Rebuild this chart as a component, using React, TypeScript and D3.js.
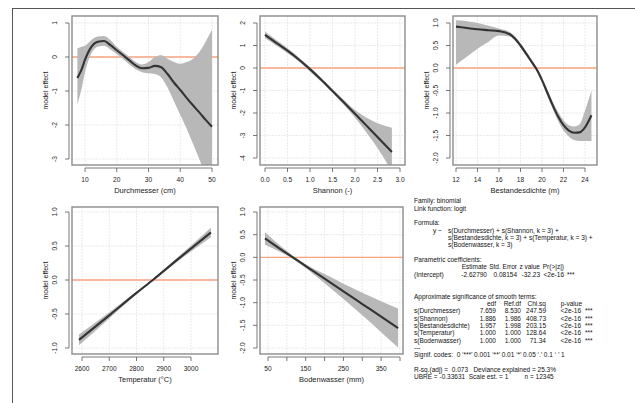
import React from "react";
import * as d3 from "d3";

// ---------- data ----------
const durchX = [7.6, 9, 10, 12, 14, 16, 18, 20, 22, 24, 26, 28, 30, 32, 34, 36, 38, 40, 42, 44, 46, 48, 50];
const durchFit = [-0.62, -0.35, -0.08, 0.3, 0.45, 0.47, 0.35, 0.2, 0.05, -0.1, -0.25, -0.33, -0.32, -0.26, -0.3, -0.5, -0.75, -0.97, -1.2, -1.42, -1.63, -1.85, -2.05];
const durchHi = [0.25, 0.3, 0.33, 0.5, 0.6, 0.62, 0.5, 0.3, 0.15, 0.0, -0.15, -0.22, -0.15, 0.0, 0.05, -0.05, -0.15, -0.2, -0.15, -0.05, 0.15, 0.45, 0.8];
const durchLo = [-1.4, -0.9, -0.45, 0.1, 0.3, 0.33, 0.22, 0.08, -0.06, -0.22, -0.36, -0.45, -0.48, -0.5, -0.6, -0.9, -1.3, -1.7, -2.1, -2.55, -3.0, -3.5, -4.0];

const shanX = [0, 0.25, 0.5, 0.75, 1.0, 1.25, 1.5, 1.75, 2.0, 2.25, 2.5, 2.82];
const shanFit = [1.47, 1.12, 0.77, 0.38, -0.05, -0.52, -1.02, -1.52, -2.03, -2.55, -3.07, -3.73];
const shanHi = [1.62, 1.24, 0.88, 0.48, 0.03, -0.44, -0.93, -1.41, -1.87, -2.2, -2.45, -2.65];
const shanLo = [1.32, 1.0, 0.66, 0.3, -0.17, -0.61, -1.11, -1.63, -2.2, -2.85, -3.55, -4.6];

const bestX = [12, 13, 14, 15, 16, 17, 17.5, 18, 18.5, 19, 19.5, 20, 20.5, 21, 21.5, 22, 22.5, 23, 23.5, 24, 24.6];
const bestFit = [0.92, 0.89, 0.86, 0.84, 0.82, 0.75, 0.65, 0.5, 0.33, 0.15, -0.03, -0.27, -0.55, -0.83, -1.08, -1.27, -1.39, -1.44, -1.43, -1.32, -1.05];
const bestHi = [1.06, 1.04, 1.0, 0.94, 0.88, 0.8, 0.7, 0.55, 0.38, 0.2, 0.02, -0.21, -0.48, -0.75, -0.98, -1.16, -1.27, -1.3, -1.25, -0.95, -0.5];
const bestLo = [0.07, 0.25, 0.43, 0.58, 0.72, 0.7, 0.6, 0.45, 0.28, 0.1, -0.08, -0.33, -0.62, -0.91, -1.18, -1.39, -1.52, -1.6, -1.62, -1.62, -1.62];

const tempX = [2589, 2700, 2800, 2860, 2950, 3073];
const tempFit = [-0.88, -0.52, -0.19, 0.0, 0.3, 0.7];
const tempHi = [-0.8, -0.475, -0.17, 0.012, 0.33, 0.77];
const tempLo = [-0.96, -0.565, -0.21, -0.012, 0.27, 0.63];

const bodenX = [42, 80, 116, 160, 200, 250, 300, 350, 395];
const bodenFit = [0.42, 0.2, 0.0, -0.25, -0.47, -0.75, -1.03, -1.31, -1.56];
const bodenHi = [0.56, 0.27, 0.035, -0.2, -0.37, -0.58, -0.78, -0.97, -1.13];
const bodenLo = [0.28, 0.13, -0.035, -0.3, -0.57, -0.92, -1.28, -1.65, -1.99];

const durchXTicks = [10, 20, 30, 40, 50];
const durchYTicks = [1, 0, -1, -2, -3];
const shanXTicks = [0, 0.5, 1, 1.5, 2, 2.5, 3];
const shanYTicks = [2, 1, 0, -1, -2, -3, -4];
const bestXTicks = [12, 14, 16, 18, 20, 22, 24];
const bestYTicks = [1, 0.5, 0, -0.5, -1, -1.5, -2];
const tempXTicks = [2600, 2700, 2800, 2900, 3000];
const tempYTicks = [1, 0.5, 0, -0.5, -1];
const bodenXTicks = [50, 100, 150, 200, 250, 300, 350, 400];
const bodenXLabels = [50, 150, 250, 350];
const bodenYTicks = [1, 0.5, 0, -0.5, -1, -1.5, -2];

const smoothNames = ["s(Durchmesser)", "s(Shannon)", "s(Bestandesdichte)", "s(Temperatur)", "s(Bodenwasser)"];
const smoothEdf = ["7.659", "1.886", "1.957", "1.000", "1.000"];
const smoothRefDf = ["8.530", "1.986", "1.998", "1.000", "1.000"];
const smoothChi = ["247.59", "408.73", "203.15", "128.64", "71.34"];
const smoothP = ["<2e-16", "<2e-16", "<2e-16", "<2e-16", "<2e-16"];

// ---------- drawing ----------
const FONT = "'Liberation Sans', Arial, sans-serif";
const f1 = (v: number) => v.toFixed(1);
const f0 = (v: number) => String(v);

type PanelProps = {
  id: string;
  box: [number, number, number, number];
  xMap: [number, number, number, number];
  yMap: [number, number, number, number];
  xTicks: number[];
  xLabels?: number[];
  xFmt: (v: number) => string;
  yTicks: number[];
  yFmt: (v: number) => string;
  xTitle: string;
  xs: number[];
  fit: number[];
  lo: number[];
  hi: number[];
};

function Panel(p: PanelProps) {
  const [bx0, by0, bx1, by1] = p.box;
  const x = d3.scaleLinear().domain([p.xMap[0], p.xMap[1]]).range([p.xMap[2], p.xMap[3]]);
  const y = d3.scaleLinear().domain([p.yMap[0], p.yMap[1]]).range([p.yMap[2], p.yMap[3]]);
  const idx = p.xs.map((_, i) => i);
  const area = d3
    .area<number>()
    .x((i) => x(p.xs[i]))
    .y0((i) => y(p.lo[i]))
    .y1((i) => y(p.hi[i]))
    .curve(d3.curveMonotoneX);
  const line = d3
    .line<number>()
    .x((i) => x(p.xs[i]))
    .y((i) => y(p.fit[i]))
    .curve(d3.curveMonotoneX);
  const labels = p.xLabels ?? p.xTicks;
  const axY = by1 + 3;
  const axX = bx0 - 3;
  const yt0 = y(p.yTicks[0]);
  const yt1 = y(p.yTicks[p.yTicks.length - 1]);
  return (
    <g>
      <defs>
        <clipPath id={p.id}>
          <rect x={bx0} y={by0} width={bx1 - bx0} height={by1 - by0} />
        </clipPath>
      </defs>
      <rect x={bx0} y={by0} width={bx1 - bx0} height={by1 - by0} fill="#fff" />
      {p.xTicks.map((t) => (
        <line key={"gx" + t} x1={x(t)} x2={x(t)} y1={by0} y2={by1} stroke="#e4e4e4" strokeWidth={0.8} strokeDasharray="2,1" />
      ))}
      {p.yTicks.map((t) => (
        <line key={"gy" + t} x1={bx0} x2={bx1} y1={y(t)} y2={y(t)} stroke="#e4e4e4" strokeWidth={0.8} strokeDasharray="2,1" />
      ))}
      <g clipPath={`url(#${p.id})`}>
        <line x1={bx0} x2={bx1} y1={y(0)} y2={y(0)} stroke="#f7a47f" strokeWidth={1.4} />
        <path d={area(idx) || ""} fill="#b8b8b8" />
        <path d={line(idx) || ""} fill="none" stroke="#333" strokeWidth={2.1} />
      </g>
      <rect x={bx0} y={by0} width={bx1 - bx0} height={by1 - by0} fill="none" stroke="#8c8c8c" strokeWidth={1.4} />
      <line x1={x(p.xTicks[0])} x2={x(p.xTicks[p.xTicks.length - 1])} y1={axY} y2={axY} stroke="#555" strokeWidth={0.8} />
      {p.xTicks.map((t) => (
        <line key={"tx" + t} x1={x(t)} x2={x(t)} y1={axY} y2={axY + 4} stroke="#555" strokeWidth={0.8} />
      ))}
      {labels.map((t) => (
        <text key={"lx" + t} x={x(t)} y={by1 + 16.5} textAnchor="middle" fontSize={6.6} fontFamily={FONT} fill="#222">
          {p.xFmt(t)}
        </text>
      ))}
      <text x={(bx0 + bx1) / 2} y={by1 + 28} textAnchor="middle" fontSize={7.5} fontFamily={FONT} fill="#222">
        {p.xTitle}
      </text>
      <line x1={axX} x2={axX} y1={yt0} y2={yt1} stroke="#555" strokeWidth={0.8} />
      {p.yTicks.map((t) => (
        <line key={"ty" + t} x1={axX - 4} x2={axX} y1={y(t)} y2={y(t)} stroke="#555" strokeWidth={0.8} />
      ))}
      {p.yTicks.map((t) => (
        <text
          key={"ly" + t}
          transform={`translate(${bx0 - 15},${y(t)}) rotate(-90)`}
          textAnchor="middle"
          fontSize={6.6}
          fontFamily={FONT}
          fill="#222"
        >
          {p.yFmt(t)}
        </text>
      ))}
      <text
        transform={`translate(${bx0 - 24},${(by0 + by1) / 2}) rotate(-90)`}
        textAnchor="middle"
        fontSize={7}
        fontFamily={FONT}
        fill="#222"
      >
        model effect
      </text>
    </g>
  );
}

function Summary() {
  const X = 414;
  const lh = 7.33;
  const base = 203.4;
  const yy = (i: number) => base + i * lh;
  const st = { fontSize: 6.5, fontFamily: FONT, fill: "#111" } as const;
  const pre = { whiteSpace: "pre" } as const;
  return (
    <g>
      <text x={X} y={yy(0)} {...st}>Family: binomial</text>
      <text x={X} y={yy(1)} {...st}>Link function: logit</text>
      <text x={X} y={yy(3)} {...st}>Formula:</text>
      <text x={433} y={yy(4)} {...st}>y ~</text>
      <text x={448} y={yy(4)} {...st}>s(Durchmesser) + s(Shannon, k = 3) +</text>
      <text x={448} y={yy(5)} {...st}>s(Bestandesdichte, k = 3) + s(Temperatur, k = 3) +</text>
      <text x={448} y={yy(6)} {...st}>s(Bodenwasser, k = 3)</text>
      <text x={X} y={yy(8)} {...st}>Parametric coefficients:</text>
      <g textAnchor="end">
        <text x={487} y={yy(9)} {...st}>Estimate</text>
        <text x={517} y={yy(9)} {...st}>Std. Error</text>
        <text x={540} y={yy(9)} {...st}>z value</text>
        <text x={564} y={yy(9)} {...st}>Pr(&gt;|z|)</text>
        <text x={487} y={yy(10)} {...st}>-2.62790</text>
        <text x={517} y={yy(10)} {...st}>0.08154</text>
        <text x={540} y={yy(10)} {...st}>-32.23</text>
        <text x={564} y={yy(10)} {...st}>&lt;2e-16</text>
      </g>
      <text x={X} y={yy(10)} {...st}>(Intercept)</text>
      <text x={567} y={yy(10)} {...st}>***</text>
      <text x={X} y={yy(13)} {...st}>Approximate significance of smooth terms:</text>
      <g textAnchor="end">
        <text x={496} y={yy(14)} {...st}>edf</text>
        <text x={521} y={yy(14)} {...st}>Ref.df</text>
        <text x={546} y={yy(14)} {...st}>Chi.sq</text>
        <text x={582} y={yy(14)} {...st}>p-value</text>
        {smoothNames.map((n, i) => (
          <g key={n}>
            <text x={496} y={yy(15 + i)} {...st}>{smoothEdf[i]}</text>
            <text x={521} y={yy(15 + i)} {...st}>{smoothRefDf[i]}</text>
            <text x={546} y={yy(15 + i)} {...st}>{smoothChi[i]}</text>
            <text x={581} y={yy(15 + i)} {...st}>{smoothP[i]}</text>
          </g>
        ))}
      </g>
      {smoothNames.map((n, i) => (
        <g key={"n" + n}>
          <text x={X} y={yy(15 + i)} {...st}>{n}</text>
          <text x={585} y={yy(15 + i)} {...st}>***</text>
        </g>
      ))}
      <text x={X} y={yy(20)} {...st}>---</text>
      <text x={X} y={yy(21)} {...st} style={pre}>Signif. codes:  0 ‘***’ 0.001 ‘**’ 0.01 ‘*’ 0.05 ‘.’ 0.1 ‘ ’ 1</text>
      <text x={X} y={yy(23)} {...st} style={pre}>R-sq.(adj) =  0.073   Deviance explained = 25.3%</text>
      <text x={X} y={yy(24)} {...st} style={pre}>UBRE = -0.33631  Scale est. = 1         n = 12345</text>
    </g>
  );
}

export default function App() {
  return (
    <svg width={635} height={403} style={{ position: "absolute", left: 0, top: 0, background: "#fff" }}>
      <rect x={0} y={0} width={635} height={403} fill="#fff" />
      <line x1={12} x2={635} y1={8.5} y2={8.5} stroke="#555" strokeWidth={1} />
      <line x1={12.5} x2={12.5} y1={8} y2={403} stroke="#555" strokeWidth={1} />
      <Panel
        id="c1" box={[72, 16, 218, 165]} xMap={[10, 50, 85, 212]} yMap={[1, -3, 23, 159]}
        xTicks={durchXTicks} xFmt={f0} yTicks={durchYTicks} yFmt={f0} xTitle="Durchmesser (cm)"
        xs={durchX} fit={durchFit} lo={durchLo} hi={durchHi}
      />
      <Panel
        id="c2" box={[260, 16, 405, 165]} xMap={[0, 3, 265, 400]} yMap={[2, -4, 23, 158]}
        xTicks={shanXTicks} xFmt={f1} yTicks={shanYTicks} yFmt={f0} xTitle="Shannon (-)"
        xs={shanX} fit={shanFit} lo={shanLo} hi={shanHi}
      />
      <Panel
        id="c3" box={[453, 16, 597, 165]} xMap={[12, 24, 456, 585]} yMap={[1, -2, 23, 158]}
        xTicks={bestXTicks} xFmt={f0} yTicks={bestYTicks} yFmt={f1} xTitle="Bestandesdichte (m)"
        xs={bestX} fit={bestFit} lo={bestLo} hi={bestHi}
      />
      <Panel
        id="c4" box={[72, 207, 218, 354]} xMap={[2600, 3000, 82, 191]} yMap={[1, -1, 212, 348]}
        xTicks={tempXTicks} xFmt={f0} yTicks={tempYTicks} yFmt={f1} xTitle="Temperatur (°C)"
        xs={tempX} fit={tempFit} lo={tempLo} hi={tempHi}
      />
      <Panel
        id="c5" box={[260, 207, 403, 354]} xMap={[50, 400, 268, 400]} yMap={[1, -2, 212, 348]}
        xTicks={bodenXTicks} xLabels={bodenXLabels} xFmt={f0} yTicks={bodenYTicks} yFmt={f1} xTitle="Bodenwasser (mm)"
        xs={bodenX} fit={bodenFit} lo={bodenLo} hi={bodenHi}
      />
      <Summary />
    </svg>
  );
}
